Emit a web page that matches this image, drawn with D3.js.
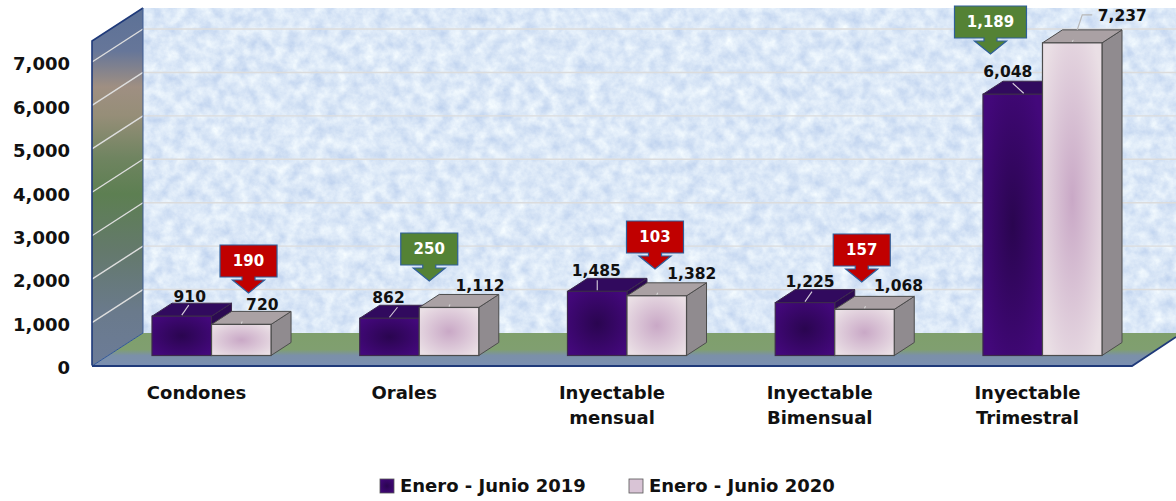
<!DOCTYPE html>
<html><head><meta charset="utf-8">
<script src="https://cdn.jsdelivr.net/npm/d3@7"></script>
<style>
html,body{margin:0;padding:0;background:#fff}
svg{display:block}
text{font-family:"DejaVu Sans",sans-serif;font-weight:bold;fill:#111}
</style></head><body>
<svg id="c" width="1176" height="501"></svg>
<script>
// Data
const categories = ["Condones","Orales","Inyectable mensual","Inyectable Bimensual","Inyectable Trimestral"];
const seriesNames = ["Enero - Junio 2019","Enero - Junio 2020"];
const values2019 = [910,862,1485,1225,6048];
const values2020 = [720,1112,1382,1068,7237];
const differences = ["190","250","103","157","1,189"];
const diffDirection = ["down","up","down","down","up"];
const axisTicks = [0,1000,2000,3000,4000,5000,6000,7000];

// Annotation layout (hand placement of labels and callouts)
const calloutDx = [37,10,28,27,-52];
const calloutTipY = [293,281,269,282,54];
const label2019Off = [[8,-20],[-1,-21],[-1,-21],[5,-21],[-5,-23]];
const label2020Off = [[21,-20],[31,-22],[35,-22],[34,-24],[50,-27]];
const leader2019Dx = [7,8,0,7,-11];

const W=1176, H=501;
const svg=d3.select("#c");
const defs=svg.append("defs");
const left=92, floorY=366, depthX=51, depthY=33, right=1176;

const yAxisScale=d3.scaleLinear().domain([0,7000]).range([floorY,62]);
const yBar=d3.scaleLinear().domain([0,7000]).range([355.5,53.1]);
const xGroup=d3.scaleBand().domain(categories).range([152,1102]).paddingInner(0.427).paddingOuter(0);
const xSeries=d3.scaleBand().domain([0,1]).range([0,xGroup.bandwidth()]);

// gradients & filter
function linear(id,stops){const g=defs.append("linearGradient").attr("id",id).attr("x1",0).attr("x2",0).attr("y1",0).attr("y2",1);
  stops.forEach(s=>g.append("stop").attr("offset",s[0]).attr("stop-color",s[1]));}
function radial(id,inner,outer){const g=defs.append("radialGradient").attr("id",id).attr("r",0.62);
  g.append("stop").attr("offset",0).attr("stop-color",inner);
  g.append("stop").attr("offset",1).attr("stop-color",outer);}
linear("wall",[[0,"#5c7196"],[0.12,"#667699"],[0.22,"#9f8f82"],[0.3,"#968e78"],[0.42,"#6f8460"],[0.52,"#5d7f52"],[0.68,"#64796c"],[0.85,"#6a7a8c"],[1,"#6c7c98"]]);
linear("floor",[[0,"#7f9f6c"],[0.5,"#809f70"],[0.68,"#7b90a8"],[1,"#7b8fb2"]]);
radial("b0","#2a0550","#43087b");
radial("b1","#c9a8c6","#eadfe5");
radial("sw0","#2a0550","#43087b");
const f=defs.append("filter").attr("id","marble").attr("x",0).attr("y",0).attr("width",1).attr("height",1)
  .attr("color-interpolation-filters","sRGB");
f.append("feTurbulence").attr("type","fractalNoise").attr("baseFrequency",0.08).attr("numOctaves",5).attr("seed",7);
f.append("feColorMatrix").attr("type","matrix").attr("values","0.26 0 0 0 0.73  0.2 0 0 0 0.81  0.08 0 0 0 0.93  0 0 0 0 1");

// back wall
const wallTop=8;
svg.append("rect").attr("x",left+depthX).attr("y",wallTop).attr("width",right-left-depthX).attr("height",floorY-depthY-wallTop)
  .attr("fill","#e2effb").attr("filter","url(#marble)");
svg.selectAll(".bg").data(axisTicks.slice(1)).join("line").attr("class","bg")
  .attr("x1",left+depthX).attr("x2",right).attr("y1",d=>yAxisScale(d)-depthY).attr("y2",d=>yAxisScale(d)-depthY)
  .attr("stroke","#dcdcdc").attr("stroke-width",1.4);

// left wall
svg.append("path").attr("d",d3.line()([[left,floorY],[left,wallTop+depthY],[left+depthX,wallTop],[left+depthX,floorY-depthY]])+"Z")
  .attr("fill","url(#wall)");
svg.selectAll(".lg").data(axisTicks.slice(1)).join("line").attr("class","lg")
  .attr("x1",left).attr("x2",left+depthX).attr("y1",d=>yAxisScale(d)).attr("y2",d=>yAxisScale(d)-depthY)
  .attr("stroke","#dedede").attr("stroke-width",1.4);

// floor
const floorCorner=1132;
svg.append("path").attr("d",d3.line()([[left,floorY],[left+depthX,floorY-depthY],[right,floorY-depthY],[right,floorY-29],[floorCorner,floorY]])+"Z")
  .attr("fill","url(#floor)");
svg.append("path").attr("d",d3.line()([[left,floorY-0.5],[left,wallTop+depthY],[left+depthX,wallTop]])).attr("fill","none").attr("stroke","#1f3a7a").attr("stroke-width",1.6);
svg.append("path").attr("d",d3.line()([[left,floorY],[left+depthX,floorY-depthY]])).attr("fill","none").attr("stroke","#2f5597").attr("stroke-width",1);
svg.append("line").attr("x1",left+depthX).attr("x2",left+depthX).attr("y1",wallTop).attr("y2",floorY-depthY).attr("stroke","#3f5c94").attr("stroke-width",1);
svg.append("path").attr("d",d3.line()([[left,floorY],[floorCorner,floorY],[right,floorY-29]])).attr("fill","none").attr("stroke","#1f3a7a").attr("stroke-width",1.8);

// axis
const axis=d3.axisLeft(yAxisScale).tickValues(axisTicks).tickFormat(d3.format(",")).tickSize(0).tickPadding(0);
const ga=svg.append("g").attr("transform","translate(70,1.5)").call(axis);
ga.select(".domain").remove();
ga.selectAll("text").attr("font-size",18).style("font-family",'"DejaVu Sans"').style("font-weight","bold").attr("dy","0.35em");

// bars
const dx=20, dy=13;
const barColors=[{front:"url(#b0)",top:"#310a5e",side:"#2c0a52",stroke:"#3c2a4c"},
                 {front:"url(#b1)",top:"#aaa1a4",side:"#908b8f",stroke:"#4c4c4c"}];
const rows=categories.flatMap((c,i)=>[
  {c,i,s:0,v:values2019[i],off:label2019Off[i]},
  {c,i,s:1,v:values2020[i],off:label2020Off[i]}]);
svg.selectAll(".bar").data(rows).join("g").attr("class","bar").each(function(d){
  const x0=xGroup(d.c)+xSeries(d.s), w=xSeries.bandwidth(), y0=yBar(0), y1=yBar(d.v), col=barColors[d.s], sel=d3.select(this);
  sel.append("path").attr("d",d3.line()([[x0+w,y0],[x0+w+dx,y0-dy],[x0+w+dx,y1-dy],[x0+w,y1]])+"Z").attr("fill",col.side).attr("stroke",col.stroke);
  sel.append("path").attr("d",d3.line()([[x0,y1],[x0+dx,y1-dy],[x0+w+dx,y1-dy],[x0+w,y1]])+"Z").attr("fill",col.top).attr("stroke",col.stroke);
  sel.append("rect").attr("x",x0).attr("y",y1).attr("width",w).attr("height",y0-y1).attr("fill",col.front).attr("stroke",col.stroke).attr("stroke-width",1.2);
  const cx=x0+w/2;
  if(d.i===4&&d.s===1){
    sel.append("path").attr("d",d3.line()([[cx+5,y1-13],[cx+10,y1-28],[cx+20,y1-28]])).attr("fill","none").attr("stroke","#b8b8b8").attr("stroke-width",1.2);
    sel.append("line").attr("x1",cx).attr("y1",y1-1).attr("x2",cx+1).attr("y2",y1-3).attr("stroke","#d8d8d8");
  }else if(d.s===0){
    sel.append("line").attr("x1",cx+(d.i===4?11:0)).attr("y1",y1-1).attr("x2",cx+(d.i===4?0:leader2019Dx[d.i])).attr("y2",y1-11).attr("stroke","#d8d0dc").attr("stroke-width",1.1);
  }else{
    sel.append("line").attr("x1",cx).attr("y1",y1-1).attr("x2",cx+1).attr("y2",y1-3).attr("stroke","#d8d8d8").attr("stroke-width",1.1);
  }
  sel.append("text").attr("class","val").attr("x",cx+d.off[0]).attr("y",y1+d.off[1]).attr("text-anchor","middle").attr("dy","0.36em").attr("font-size",15.5).text(d3.format(",")(d.v));
});

// callouts
const boxH=32, shoulder=3, neck=6.5, head=16, tipDrop=16;
categories.forEach((c,i)=>{
  const cx=xGroup(c)+xGroup.bandwidth()/2+calloutDx[i], tip=calloutTipY[i], top=tip-tipDrop-boxH;
  const bw=differences[i].length>3?72:57, bot=top+boxH;
  const fill=diffDirection[i]==="down"?"#c00000":"#548235";
  svg.append("path").attr("d",d3.line()([[cx-bw/2,top],[cx+bw/2,top],[cx+bw/2,bot],[cx+neck,bot],[cx+neck,bot+shoulder],[cx+head,bot+shoulder],[cx,tip],[cx-head,bot+shoulder],[cx-neck,bot+shoulder],[cx-neck,bot],[cx-bw/2,bot]])+"Z")
    .attr("fill",fill).attr("stroke","#2f5f9a").attr("stroke-width",1.2);
  svg.append("text").attr("x",cx).attr("y",top+boxH/2).attr("dy","0.36em").attr("text-anchor","middle").attr("font-size",15).style("fill","#fff").text(differences[i]);
});

// category labels
const catLines=c=>c.split(" ");
categories.forEach(c=>{
  const t=svg.append("text").attr("text-anchor","middle").attr("font-size",18);
  catLines(c).forEach((l,j)=>t.append("tspan").attr("x",xGroup(c)+xGroup.bandwidth()/2-15).attr("y",399+j*25).text(l));
});

// legend
const legendX=[380,629], legendFill=["url(#sw0)","#d9c4d6"];
seriesNames.forEach((n,i)=>{
  svg.append("rect").attr("x",legendX[i]).attr("y",479).attr("width",14).attr("height",14).attr("fill",legendFill[i]).attr("stroke","#555").attr("stroke-width",0.8);
  svg.append("text").attr("x",legendX[i]+20).attr("y",492).attr("font-size",18).text(n);
});
</script></body></html>
